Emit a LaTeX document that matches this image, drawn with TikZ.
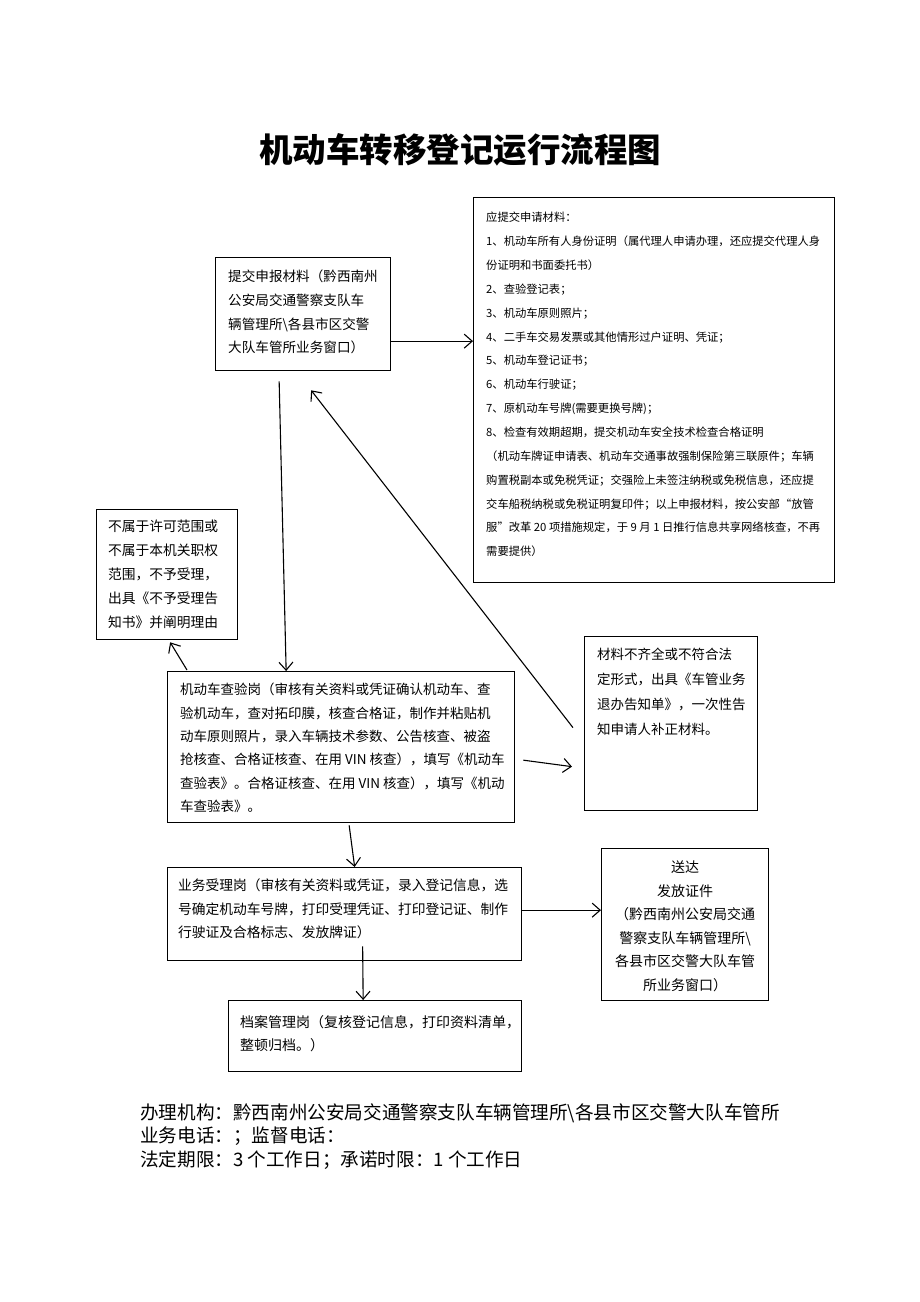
\documentclass[tikz,border=0pt]{standalone}
\usepackage{fontspec}
\setmainfont{Noto Sans CJK SC}
\usetikzlibrary{arrows.meta,positioning}

\begin{document}
\begin{tikzpicture}[x=1pt, y=-1pt,
  box/.style={rectangle, draw, line width=1.3pt, anchor=north west, inner sep=0pt},
  txt/.style={inner sep=0pt, align=left},
  arr/.style={line width=1.1pt, ->, >={Straight Barb[length=8pt,width=14pt]}}
  ]
  \useasboundingbox (0,0) rectangle (920,1302);

  \node[font=\fontsize{33.5}{40}\selectfont\bfseries] (T) at (460,150) {机动车转移登记运行流程图};

  \node[box, minimum width=175, minimum height=113] (A) at (215,257) {};
  \node[box, minimum width=361, minimum height=385] (B) at (473,197) {};
  \node[box, minimum width=141, minimum height=130] (C) at (96,509) {};
  \node[box, minimum width=347, minimum height=151] (D) at (167,671) {};
  \node[box, minimum width=173, minimum height=174] (E) at (584,636) {};
  \node[box, minimum width=354, minimum height=93] (F) at (167,867) {};
  \node[box, minimum width=167, minimum height=152] (G) at (601,848) {};
  \node[box, minimum width=293, minimum height=71] (H) at (228,1000) {};

  \node[txt, font=\fontsize{13.6}{23.7}\selectfont, below right=13pt and 13pt of A.north west] (At)
    {提交申报材料（黔西南州\\公安局交通警察支队车\\辆管理所\textbackslash 各县市区交警\\大队车管所业务窗口）};
  \node[txt, font=\fontsize{11.3}{23.86}\selectfont, below right=15pt and 13pt of B.north west] (Bt)
    {应提交申请材料：\\
     1、机动车所有人身份证明（属代理人申请办理，还应提交代理人身\\
     份证明和书面委托书）\\
     2、查验登记表；\\
     3、机动车原则照片；\\
     4、二手车交易发票或其他情形过户证明、凭证；\\
     5、机动车登记证书；\\
     6、机动车行驶证；\\
     7、原机动车号牌(需要更换号牌)；\\
     8、检查有效期超期，提交机动车安全技术检查合格证明\\
     （机动车牌证申请表、机动车交通事故强制保险第三联原件；车辆\\
     购置税副本或免税凭证；交强险上未签注纳税或免税信息，还应提\\
     交车船税纳税或免税证明复印件；以上申报材料，按公安部“放管\\
     服”改革 20 项措施规定，于 9 月 1 日推行信息共享网络核查，不再\\
     需要提供）};
  \node[txt, font=\fontsize{13.75}{24}\selectfont, below right=11pt and 12pt of C.north west] (Ct)
    {不属于许可范围或\\不属于本机关职权\\范围，不予受理，\\出具《不予受理告\\知书》并阐明理由};
  \node[txt, font=\fontsize{13.5}{23.4}\selectfont, below right=12pt and 13pt of D.north west] (Dt)
    {机动车查验岗（审核有关资料或凭证确认机动车、查\\验机动车，查对拓印膜，核查合格证，制作并粘贴机\\动车原则照片，录入车辆技术参数、公告核查、被盗\\抢核查、合格证核查、在用 VIN 核查），填写《机动车\\查验表》。合格证核查、在用 VIN 核查），填写《机动\\车查验表》。};
  \node[txt, font=\fontsize{13.5}{25}\selectfont, below right=12pt and 13pt of E.north west] (Et)
    {材料不齐全或不符合法\\定形式，出具《车管业务\\退办告知单》，一次性告\\知申请人补正材料。};
  \node[txt, font=\fontsize{13.75}{23.5}\selectfont, below right=12pt and 11pt of F.north west] (Ft)
    {业务受理岗（审核有关资料或凭证，录入登记信息，选\\号确定机动车号牌，打印受理凭证、打印登记证、制作\\行驶证及合格标志、发放牌证）};
  \node[txt, align=center, font=\fontsize{14}{23.5}\selectfont, below=13pt of G.north] (Gt)
    {送达\\发放证件\\（黔西南州公安局交通\\警察支队车辆管理所\textbackslash\\各县市区交警大队车管\\所业务窗口）};
  \node[txt, font=\fontsize{14}{23.5}\selectfont, below right=15pt and 12pt of H.north west] (Ht)
    {档案管理岗（复核登记信息，打印资料清单，\\整顿归档。）};

  \node[txt, anchor=north west, font=\fontsize{18.6}{23.5}\selectfont] (N) at (140,1103)
    {办理机构：黔西南州公安局交通警察支队车辆管理所\textbackslash 各县市区交警大队车管所\\业务电话：；监督电话：\\法定期限：3 个工作日；承诺时限：1 个工作日};

  \coordinate (a1) at ([yshift=-27pt]A.east);
  \coordinate (f1) at ([yshift=4pt]F.east);

  \draw[arr] (a1) -- (a1 -| B.west);
  \draw[arr] ([shift={(-24,10)}]A.south) -- ([xshift=-55pt]D.north);
  \draw[arr] ([shift={(-11,4)}]E.west) -- ([shift={(8,19)}]A.south);
  \draw[arr] ([shift={(20,-1)}]D.north west) -- ([shift={(3,2)}]C.south);
  \draw[arr] ([shift={(8,13)}]D.east) -- ([shift={(-12,43)}]E.west);
  \draw[arr] ([shift={(8,2)}]D.south) -- ([xshift=10pt]F.north);
  \draw[arr] (f1) -- (f1 -| G.west);
  \draw[arr] ([shift={(18,-15)}]F.south) -- ([xshift=-12pt]H.north);
\end{tikzpicture}
\end{document}
